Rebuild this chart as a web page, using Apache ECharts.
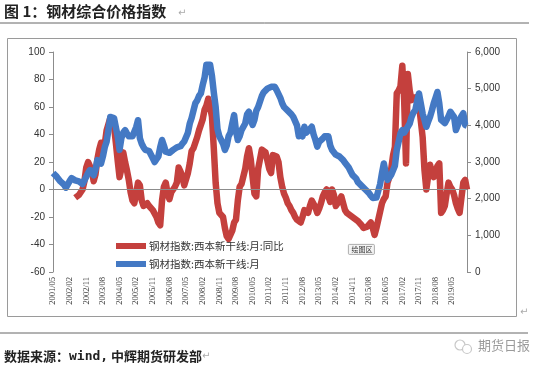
<!DOCTYPE html>
<html><head><meta charset="utf-8">
<script src="https://cdn.jsdelivr.net/npm/echarts@6/dist/echarts.min.js"></script>
<style>html,body{margin:0;padding:0;background:#fff;}#c{width:550px;height:370px;}</style>
</head><body><div id="c"></div>
<script>
// categories: monthly 2001/05 .. 2020/01
const startYear = 2001, startMonth = 5, monthCount = 225;
const categories = [];
for (let i = 0; i < monthCount; i++) {
  const t = startMonth - 1 + i;
  const y = startYear + Math.floor(t / 12), m = (t % 12) + 1;
  categories.push(y + '/' + (m < 10 ? '0' + m : m));
}
const leftTicks = { min: -60, max: 100, interval: 20 };
const rightTicks = { min: 0, max: 6000, interval: 1000 };
const seriesNames = ['钢材指数:西本新干线:月:同比', '钢材指数:西本新干线:月'];

// 钢材指数 同比 (%), left axis; starts 2002/05
const yoy = [
  null,null,null,null,null,null,null,null,null,null,null,null,
  -6,-5,-4,-2,0,6,16,20,
  19,14,6,11,22,29,34,31,33,43,
  44,52,50,46,34,21,9,15,27,20,
  14,7,-2,-8,-10,-3,5,3,-8,-12,
  -11,-10,-12,-13,-15,-14,-20,-24,-26,-8,
  2,5,-3,-7,-2,0,2,5,16,13,
  9,3,2,12,19,28,30,31,38,43,
  47,51,58,61,66,60,53,30,5,-10,
  -17,-18,-20,-28,-34,-36,-35,-30,-24,-22,
  -8,2,4,5,15,24,30,22,9,-3,
  -5,15,22,29,29,27,26,15,12,25,
  26,24,20,9,2,-3,-6,-10,-12,-15,
  -17,-20,-22,-23,-24,-20,-15,-16,-17,-12,
  -8,-8,-13,-17,-14,-10,-5,-2,0,-5,
  -9,0,-4,-12,-10,-8,-5,-10,-15,-17,
  -18,-19,-20,-21,-22,-23,-24,-26,-28,-29,
  -27,-26,-24,-28,-33,-28,-22,-16,-10,-7,
  -5,5,9,15,25,31,70,72,75,90,
  65,19,84,72,65,66,67,64,62,50,
  38,14,0,10,18,12,9,14,17,19,
  -17,-15,-12,-3,5,2,0,-4,-10,-14,
  -17,-18,5,7,0
];
// 钢材指数 (level), right axis
const index = [
  2700,2650,2600,2550,2470,2420,2380,2300,2330,2480,
  2560,2540,2500,2550,2470,2430,2400,2440,2600,2700,
  2780,2700,2640,2800,3050,3000,2960,3150,3400,3550,
  3870,4230,4280,4200,4150,3700,3330,3650,3800,3870,
  3780,3700,3680,3700,3720,3950,4140,3650,3500,3400,
  3330,3380,3300,3250,3100,3000,2960,3150,3400,3600,
  3450,3280,3240,3250,3300,3330,3380,3400,3420,3430,
  3500,3560,3600,3800,4050,4200,4400,4600,4680,4800,
  4870,5100,5300,5650,5700,5650,5350,4900,4500,3900,
  3700,3600,3500,3330,3450,3700,3800,4050,4280,3850,
  3600,3700,3870,3900,4050,4300,4370,4150,4010,4150,
  4400,4500,4650,4800,4900,4950,5000,4950,5050,5100,
  5050,4960,4950,4750,4600,4500,4450,4400,4370,4300,
  4230,4230,4000,3700,3850,3700,3960,3800,3780,3900,
  3960,3750,3600,3420,3550,3600,3640,3700,3740,3700,
  3450,3330,3300,3200,3150,3150,3100,3050,2980,2960,
  2850,2750,2650,2600,2550,2450,2420,2350,2300,2250,
  2200,2150,2080,2020,2000,2030,2060,2400,2700,2960,
  2700,2510,2580,2650,2640,2900,3330,3550,3780,3870,
  3800,3880,3920,4050,4230,4350,4410,4650,4870,4600,
  4320,4150,3960,4100,4230,4400,4600,4750,4910,4600,
  4150,4100,4060,4050,4250,4370,4300,4230,3870,4000,
  4140,4250,4330,4010,3990
];

const RED = '#c4403d', BLUE = '#4479c4';
const axisGray = '#8c8c8c', labelColor = '#333';
const chart = echarts.init(document.getElementById('c'), null, { renderer: 'canvas' });
chart.setOption({
  animation: false,
  backgroundColor: '#fff',
  grid: { left: 53, right: 83, top: 52, bottom: 98, containLabel: false },
  legend: {
    left: 111, top: 235, orient: 'vertical', itemGap: 6,
    itemWidth: 30, itemHeight: 6, icon: 'rect',
    textStyle: { fontSize: 10.5, color: '#333', fontFamily: 'Noto Sans CJK SC', lineHeight: 12, padding: [0,0,0,-2] },
    data: seriesNames
  },
  xAxis: {
    type: 'category', data: categories, boundaryGap: false,
    axisLine: { show: false }, axisTick: { show: false },
    axisLabel: { interval: 8, rotate: 90, margin: 5, fontSize: 8.5, color: labelColor, fontFamily: 'Liberation Sans Narrow' },
    splitLine: { show: false }
  },
  yAxis: [
    { type: 'value', min: leftTicks.min, max: leftTicks.max, interval: leftTicks.interval, position: 'left',
      axisLine: { show: true, lineStyle: { color: axisGray } },
      axisTick: { show: true, length: 4, lineStyle: { color: axisGray } },
      axisLabel: { fontSize: 10, color: labelColor, fontFamily: 'Liberation Sans', margin: 8 },
      splitLine: { show: false } },
    { type: 'value', min: rightTicks.min, max: rightTicks.max, interval: rightTicks.interval, position: 'right',
      axisLine: { show: true, lineStyle: { color: axisGray } },
      axisTick: { show: true, length: 4, lineStyle: { color: axisGray } },
      axisLabel: { fontSize: 10, color: labelColor, fontFamily: 'Liberation Sans', margin: 8,
        formatter: v => v.toLocaleString('en-US') },
      splitLine: { show: false } }
  ],
  series: [
    { name: seriesNames[0], type: 'line', yAxisIndex: 0, data: yoy, showSymbol: false, symbol: 'none',
      connectNulls: false, color: RED, lineStyle: { width: 6.5, color: RED, join: 'round' }, z: 2,
      markLine: { silent: true, symbol: 'none', label: { show: false },
        lineStyle: { color: axisGray, width: 1, type: 'solid' }, data: [{ yAxis: 0 }] } },
    { name: seriesNames[1], type: 'line', yAxisIndex: 1, data: index, showSymbol: false, symbol: 'none',
      color: BLUE, lineStyle: { width: 6.5, color: BLUE, join: 'round' }, z: 3 }
  ],
  graphic: [
    { type: 'text', left: 4, top: 4, style: { text: '图 1：钢材综合价格指数', font: 'bold 15px "Noto Sans CJK SC"', fill: '#222' } },
    { type: 'text', left: 178, top: 8, style: { text: '↵', font: '10px "DejaVu Sans"', fill: '#aaa' } },
    { type: 'line', shape: { x1: 0, y1: 23, x2: 529, y2: 23 }, style: { stroke: '#666', lineWidth: 1 } },
    { type: 'rect', shape: { x: 7.5, y: 38.5, width: 509, height: 278 }, style: { stroke: '#9a9a9a', fill: 'none', lineWidth: 1 }, z: -1 },
    { type: 'text', left: 520, top: 307, style: { text: '↵', font: '10px "DejaVu Sans"', fill: '#aaa' } },
    { type: 'group', left: 348, top: 244, children: [
      { type: 'rect', shape: { x: 0, y: 0, width: 26, height: 10, r: 1 }, style: { fill: '#f4f4f4', stroke: '#999', lineWidth: 0.8 } },
      { type: 'text', x: 3, y: 1.5, style: { text: '绘图区', font: '7px "Noto Sans CJK SC"', fill: '#333' } }
    ] },
    { type: 'line', shape: { x1: 0, y1: 333, x2: 528, y2: 333 }, style: { stroke: '#666', lineWidth: 1 } },
    { type: 'text', left: 4, top: 350, style: {
      rich: {
        a: { font: 'bold 13px "Noto Sans CJK SC"', fill: '#222' },
        b: { font: 'bold 13px "DejaVu Sans Mono"', fill: '#222' },
        c: { font: 'bold 13px "Noto Sans CJK SC"', fill: '#222' },
        r: { font: '10px "DejaVu Sans"', fill: '#aaa' }
      },
      text: '{a|数据来源：}{b|wind,}{c| 中辉期货研发部}{r|↵}'
    } },
    { type: 'circle', shape: { cx: 460, cy: 345, r: 5 }, style: { stroke: '#c8c8c8', fill: 'none', lineWidth: 1.2 } },
    { type: 'circle', shape: { cx: 467, cy: 349, r: 4.5 }, style: { stroke: '#c8c8c8', fill: '#fff', lineWidth: 1.2 } },
    { type: 'text', left: 478, top: 339, style: { text: '期货日报', font: '13px "Noto Sans CJK SC"', fill: '#9a9a9a' } }
  ]
});
</script></body></html>
